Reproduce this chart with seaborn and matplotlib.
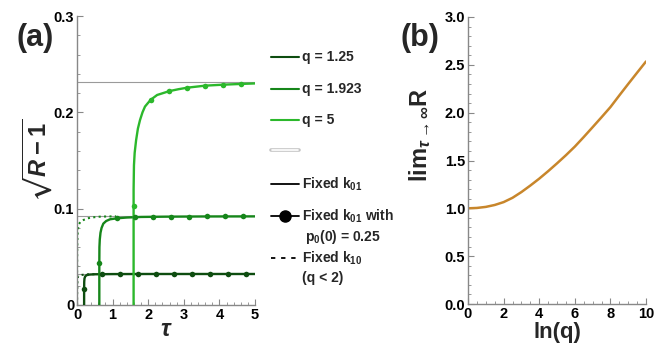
import matplotlib
matplotlib.use("Agg")
import matplotlib.pyplot as plt
from matplotlib.lines import Line2D
from matplotlib.ticker import MultipleLocator, FixedLocator, FixedFormatter
import seaborn as sns
import pandas as pd

# ---------------- data ----------------
# panel (a): sqrt(R-1) vs tau
tau_q125 = [0.20, 0.20, 0.203, 0.21, 0.23, 0.27, 0.35, 0.50, 0.75, 1.0, 2.0, 3.0, 5.0]
val_q125 = [0.0, 0.016, 0.024, 0.0275, 0.0297, 0.0310, 0.0316, 0.0319, 0.0320, 0.0321, 0.0322, 0.0322, 0.0322]
tau_q1923 = [0.627, 0.627, 0.630, 0.640, 0.660, 0.690, 0.740, 0.820, 0.930, 1.12, 1.40, 1.80, 2.5, 3.5, 5.0]
val_q1923 = [0.0, 0.044, 0.060, 0.068, 0.075, 0.080, 0.0845, 0.0872, 0.0890, 0.0900, 0.0908, 0.0914, 0.0917, 0.0919, 0.0920]
tau_q5 = [1.59, 1.59, 1.60, 1.62, 1.66, 1.71, 1.77, 1.84, 1.91, 2.00, 2.08, 2.25, 2.42, 2.59, 2.85, 3.10, 3.60, 4.11, 4.62, 5.0]
val_q5 = [0.0, 0.120, 0.145, 0.158, 0.171, 0.183, 0.192, 0.200, 0.206, 0.210, 0.2133, 0.218, 0.2200, 0.2220, 0.2240, 0.2256, 0.2277, 0.2287, 0.2295, 0.2300]

# dotted: fixed k10 (q < 2)
tau_k10_q125 = [0.0, 0.003, 0.007, 0.012, 0.025, 0.04, 0.08, 0.13, 0.20, 0.30, 0.50]
val_k10_q125 = [0.0, 0.014, 0.021, 0.026, 0.0290, 0.0301, 0.0308, 0.0312, 0.0315, 0.0318, 0.0320]
tau_k10_q1923 = [0.0, 0.003, 0.006, 0.010, 0.020, 0.035, 0.05, 0.10, 0.18, 0.27, 0.37, 0.50, 0.65, 0.85, 1.10]
val_k10_q1923 = [0.0, 0.040, 0.056, 0.066, 0.0755, 0.0810, 0.0837, 0.0865, 0.0882, 0.0896, 0.0906, 0.0912, 0.0917, 0.0919, 0.0920]

# markers: fixed k01 with p0(0) = 0.25
mk_tau_q125 = [0.20, 0.71, 1.22, 1.72, 2.23, 2.73, 3.24, 3.74, 4.24, 4.75]
mk_val_q125 = [0.0163, 0.0319, 0.0321, 0.0321, 0.0322, 0.0322, 0.0322, 0.0322, 0.0322, 0.0322]
mk_tau_q1923 = [0.627, 1.12, 1.63, 2.13, 2.64, 3.15, 3.65, 4.15, 4.65]
mk_val_q1923 = [0.0436, 0.0898, 0.0910, 0.0915, 0.0917, 0.0918, 0.0919, 0.0919, 0.0920]
mk_tau_q5 = [1.59, 2.08, 2.59, 3.10, 3.60, 4.11, 4.62]
mk_val_q5 = [0.103, 0.2133, 0.2220, 0.2256, 0.2277, 0.2287, 0.2295]

# asymptotes
asymptotes = [0.0322, 0.0925, 0.2315]

# panel (b): lim R vs ln(q)
lnq = [0, 0.5, 1, 1.5, 2, 2.5, 3, 3.5, 4, 4.5, 5, 5.5, 6, 6.5, 7, 7.5, 8, 8.5, 9, 9.5, 10]
limR = [1.0, 1.004, 1.015, 1.035, 1.065, 1.110, 1.170, 1.238, 1.310, 1.388, 1.470, 1.555, 1.645, 1.745, 1.848, 1.952, 2.058, 2.180, 2.300, 2.418, 2.535]

q_labels = ["q = 1.25", "q = 1.923", "q = 5"]
colors = ["#0e4d10", "#16861a", "#2cb82c"]
b_color = "#c8862b"

# ---------------- style ----------------
sns.set_theme(style="white")
plt.rcParams["font.family"] = ["Liberation Sans", "DejaVu Sans"]
plt.rcParams["font.weight"] = "bold"
plt.rcParams["mathtext.fontset"] = "custom"
plt.rcParams["mathtext.rm"] = "Liberation Sans:bold"
plt.rcParams["mathtext.it"] = "Liberation Sans:bold:italic"
plt.rcParams["mathtext.bf"] = "Liberation Sans:bold"
plt.rcParams["mathtext.fallback"] = "stixsans"

W, H = 667, 345
fig = plt.figure(figsize=(W / 100, H / 100), dpi=100)

def fx(px):
    return px / W

def fy(py):
    return 1 - py / H

axa = fig.add_axes([fx(77), fy(305), (255 - 77) / W, (305 - 16) / H])
axb = fig.add_axes([fx(468), fy(304), (646 - 468) / W, (304 - 17) / H])

spine_c = "#888888"
for ax in (axa, axb):
    ax.set_facecolor("white")
    for s in ("top", "right"):
        ax.spines[s].set_visible(False)
    for s in ("left", "bottom"):
        ax.spines[s].set_color(spine_c)
        ax.spines[s].set_linewidth(1.0)
    ax.tick_params(which="both", direction="in", color=spine_c, labelcolor="black",
                   labelsize=10.5, pad=2, left=True, bottom=True)
    ax.tick_params(which="major", length=4, width=0.8)
    ax.tick_params(which="minor", length=2, width=0.6)

# ---------------- panel (a) ----------------
for a in asymptotes:
    axa.axhline(a, color="#9a9a9a", lw=0.8, zorder=1)

dotted = [(tau_k10_q125, val_k10_q125, colors[0]), (tau_k10_q1923, val_k10_q1923, colors[1])]
for t, v, c in dotted:
    sns.lineplot(x=t, y=v, ax=axa, color=c, lw=1.5, linestyle=(0, (1, 1.6)),
                 estimator=None, sort=False, zorder=2)

solids = [(tau_q125, val_q125), (tau_q1923, val_q1923), (tau_q5, val_q5)]
for (t, v), c in zip(solids, colors):
    sns.lineplot(x=t, y=v, ax=axa, color=c, lw=1.7, estimator=None, sort=False, zorder=3)

marks = [(mk_tau_q125, mk_val_q125), (mk_tau_q1923, mk_val_q1923), (mk_tau_q5, mk_val_q5)]
for (t, v), c in zip(marks, colors):
    sns.scatterplot(x=t, y=v, ax=axa, color=c, s=16, edgecolor=c, linewidth=0, zorder=4)

axa.set_xlim(0, 5)
axa.set_ylim(0, 0.3)
axa.xaxis.set_major_locator(FixedLocator([0, 1, 2, 3, 4, 5]))
axa.xaxis.set_major_formatter(FixedFormatter(["0", "1", "2", "3", "4", "5"]))
axa.xaxis.set_minor_locator(MultipleLocator(0.2))
axa.yaxis.set_major_locator(FixedLocator([0, 0.1, 0.2, 0.3]))
axa.yaxis.set_major_formatter(FixedFormatter(["0", "0.1", "0.2", "0.3"]))
axa.yaxis.set_minor_locator(MultipleLocator(0.02))
axa.set_xlabel(r"$\tau$", fontsize=17)
axa.set_ylabel(r"$\sqrt{R-1}$", fontsize=17)
axa.xaxis.label.set_va("center")
axa.yaxis.label.set_va("center")
axa.xaxis.set_label_coords(0.5, -0.088)
axa.yaxis.set_label_coords(-0.225, 0.50)

# ---------------- panel (b) ----------------
sns.lineplot(x=lnq, y=limR, ax=axb, color=b_color, lw=1.8, estimator=None, sort=False)
axb.set_xlim(0, 10)
axb.set_ylim(0, 3.0)
axb.xaxis.set_major_locator(FixedLocator([0, 2, 4, 6, 8, 10]))
axb.xaxis.set_major_formatter(FixedFormatter(["0", "2", "4", "6", "8", "10"]))
axb.xaxis.set_minor_locator(MultipleLocator(0.5))
axb.yaxis.set_major_locator(FixedLocator([0, 0.5, 1.0, 1.5, 2.0, 2.5, 3.0]))
axb.yaxis.set_major_formatter(FixedFormatter(["0.0", "0.5", "1.0", "1.5", "2.0", "2.5", "3.0"]))
axb.yaxis.set_minor_locator(MultipleLocator(0.1))
axb.set_xlabel("ln(q)", fontsize=16, fontweight="bold")
axb.set_ylabel(r"$\mathrm{lim}_{\tau\rightarrow\infty}\mathrm{R}$", fontsize=17)
axb.xaxis.label.set_va("top")
axb.yaxis.label.set_va("center")
axb.xaxis.set_label_coords(0.5, -0.062)
axb.yaxis.set_label_coords(-0.27, 0.59)

for ax in (axa, axb):
    for lab in ax.get_xticklabels() + ax.get_yticklabels():
        lab.set_fontweight("bold")

# panel letters
fig.text(fx(35), fy(38), "(a)", fontsize=22, fontweight="bold", ha="center", va="center")
fig.text(fx(420), fy(38), "(b)", fontsize=22, fontweight="bold", ha="center", va="center")

# ---------------- legend (drawn manually) ----------------
x0, x1, xt = 271, 299, 302
fs = 10
for yy, c, lab in zip([57, 89, 120], colors, q_labels):
    fig.add_artist(Line2D([fx(x0), fx(x1)], [fy(yy), fy(yy)], color=c, lw=1.5))
    fig.text(fx(xt), fy(yy), lab, fontsize=fs, fontweight="bold", va="center", ha="left")
# empty gray double line
fig.add_artist(Line2D([fx(x0), fx(x1)], [fy(150), fy(150)], color="#c4c4c4", lw=2.6))
fig.add_artist(Line2D([fx(x0 + 0.6), fx(x1 - 0.6)], [fy(150), fy(150)], color="white", lw=1.2))
# Fixed k01
fig.add_artist(Line2D([fx(x0), fx(x1)], [fy(184), fy(184)], color="black", lw=1.3))
fig.text(fx(xt), fy(184), r"Fixed k$_{01}$", fontsize=fs, fontweight="bold", va="center", ha="left")
# Fixed k01 with p0(0)=0.25
fig.add_artist(Line2D([fx(x0), fx(x1)], [fy(216), fy(216)], color="black", lw=1.3))
fig.add_artist(Line2D([fx(285)], [fy(216)], color="black", marker="o", markersize=8, lw=0))
fig.text(fx(xt), fy(216), r"Fixed k$_{01}$ with", fontsize=fs, fontweight="bold", va="center", ha="left")
fig.text(fx(xt + 3), fy(237), r"p$_{0}$(0) = 0.25", fontsize=fs, fontweight="bold", va="center", ha="left")
# Fixed k10
fig.add_artist(Line2D([fx(x0), fx(x1 - 3)], [fy(258), fy(258)], color="black", lw=1.3,
                      linestyle=(0, (2.4, 3.2))))
fig.text(fx(xt), fy(258), r"Fixed k$_{10}$", fontsize=fs, fontweight="bold", va="center", ha="left")
fig.text(fx(xt), fy(278), "(q < 2)", fontsize=fs, fontweight="bold", va="center", ha="left")

fig.savefig("out.png", dpi=100)
